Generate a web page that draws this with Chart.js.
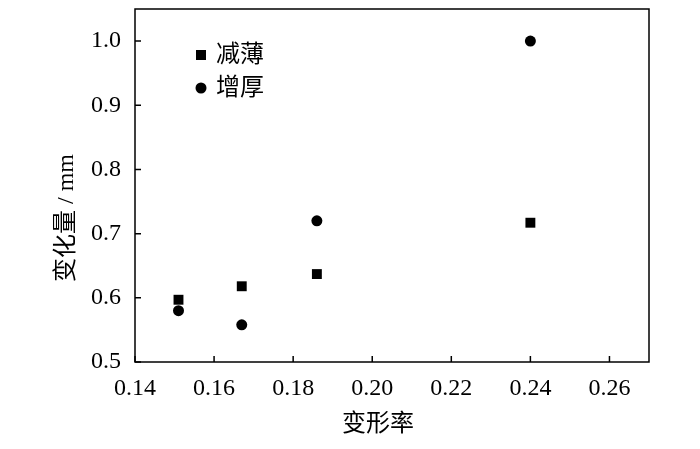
<!DOCTYPE html>
<html>
<head>
<meta charset="utf-8">
<script src="https://cdn.jsdelivr.net/npm/chart.js@4"></script>
<style>
html,body{margin:0;padding:0;background:#fff;}
#wrap{width:700px;height:449px;position:relative;}
</style>
</head>
<body>
<div id="wrap"><canvas id="c"></canvas></div>
<script>
// ---- data ----
const seriesNames = ['减薄', '增厚'];
const thinX = [0.151, 0.167, 0.186, 0.240];
const thinY = [0.597, 0.618, 0.637, 0.717];
const thickX = [0.151, 0.167, 0.186, 0.240];
const thickY = [0.580, 0.558, 0.720, 1.000];
const xTickValues = [0.14, 0.16, 0.18, 0.20, 0.22, 0.24, 0.26];
const yTickValues = [0.5, 0.6, 0.7, 0.8, 0.9, 1.0];
const xTitle = '变形率';
const yTitle = '变化量 / mm';

const serif = '"Liberation Serif", "Noto Sans CJK SC", serif';
const tickFont = {family: serif, size: 24};

function pts(xs, ys){ return xs.map((x,i)=>({x:x, y:ys[i]})); }

const framePlugin = {
  id: 'frame',
  afterDraw(chart){
    const ctx = chart.ctx, a = chart.chartArea;
    const xs = chart.scales.x, ys = chart.scales.y;
    ctx.save();
    ctx.strokeStyle = '#000';
    ctx.lineWidth = 1.5;
    ctx.strokeRect(a.left, a.top, a.right - a.left, a.bottom - a.top);
    ctx.beginPath();
    const tl = 6;
    xs.ticks.forEach(t=>{
      const px = xs.getPixelForValue(t.value);
      ctx.moveTo(px, a.bottom); ctx.lineTo(px, a.bottom - tl);
    });
    ys.ticks.forEach(t=>{
      const py = ys.getPixelForValue(t.value);
      ctx.moveTo(a.left, py); ctx.lineTo(a.left + tl, py);
    });
    ctx.stroke();
    // axis titles
    ctx.fillStyle = '#000';
    ctx.font = '24px ' + serif;
    ctx.textAlign = 'center';
    ctx.textBaseline = 'middle';
    ctx.fillText(xTitle, a.left + 243, 425);
    ctx.save();
    ctx.translate(67, 218);
    ctx.rotate(-Math.PI/2);
    ctx.fillText(yTitle, 0, 0);
    ctx.restore();
    // legend
    const lx = a.left + 66;
    const rows = [a.top + 46, a.top + 79];
    chart.data.datasets.forEach((ds, i)=>{
      const y = rows[i];
      ctx.fillStyle = '#000';
      if (ds.pointStyle === 'rect') {
        ctx.fillRect(lx - 5, y - 5, 10, 10);
      } else {
        ctx.beginPath(); ctx.arc(lx, y, 5.5, 0, Math.PI*2); ctx.fill();
      }
      ctx.textAlign = 'left';
      ctx.font = '24px ' + serif;
      ctx.fillText(ds.label, lx + 15, y + 1);
    });
    ctx.restore();
  }
};

new Chart(document.getElementById('c'), {
  type: 'scatter',
  data: {
    datasets: [
      {label: seriesNames[0], data: pts(thinX, thinY), pointStyle: 'rect',
       pointRadius: 7, backgroundColor: '#000', borderColor: '#000', borderWidth: 0},
      {label: seriesNames[1], data: pts(thickX, thickY), pointStyle: 'circle',
       pointRadius: 5.5, backgroundColor: '#000', borderColor: '#000', borderWidth: 0}
    ]
  },
  options: {
    responsive: true,
    maintainAspectRatio: false,
    animation: false,
    layout: {padding: {left: 0, right: 51, top: 9, bottom: 0}},
    plugins: {legend: {display: false}, tooltip: {enabled: false}},
    scales: {
      x: {
        type: 'linear', min: 0.14, max: 0.27,
        grid: {display: false, drawTicks: false},
        border: {display: false},
        afterBuildTicks: s => { s.ticks = xTickValues.map(v=>({value:v})); },
        afterFit: s => { s.height = 87; s.paddingLeft = 0; s.paddingRight = 0; },
        ticks: {font: tickFont, color: '#000', padding: 12,
                callback: v => Number(v).toFixed(2), maxRotation: 0, autoSkip: false}
      },
      y: {
        type: 'linear', min: 0.5, max: 1.05,
        grid: {display: false, drawTicks: false},
        border: {display: false},
        afterBuildTicks: s => { s.ticks = yTickValues.map(v=>({value:v})); },
        afterFit: s => { s.width = 135; s.paddingTop = 0; s.paddingBottom = 0; },
        ticks: {font: tickFont, color: '#000', padding: 14,
                callback: v => Number(v).toFixed(1), autoSkip: false}
      }
    }
  },
  plugins: [framePlugin]
});
</script>
</body>
</html>
